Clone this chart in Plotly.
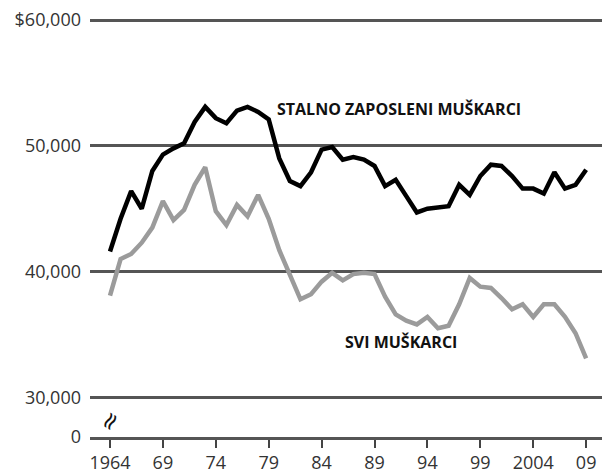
import plotly.graph_objects as go

years = list(range(1964, 2010))
stalno = [41600, 44200, 46400, 45000, 48000, 49300, 49800, 50200, 51900, 53100,
          52200, 51800, 52800, 53100, 52700, 52100, 49000, 47200, 46800, 47900,
          49700, 49900, 48900, 49100, 48900, 48400, 46800, 47300, 46000, 44700,
          45000, 45100, 45200, 46900, 46100, 47600, 48500, 48400, 47600, 46600,
          46600, 46200, 47900, 46600, 46900, 48100]
svi = [38100, 41000, 41400, 42300, 43500, 45600, 44100, 44900, 46900, 48300,
       44800, 43700, 45300, 44400, 46100, 44200, 41700, 39800, 37800, 38200,
       39200, 39900, 39300, 39800, 39900, 39800, 38000, 36600, 36100, 35800,
       36400, 35500, 35700, 37400, 39500, 38800, 38700, 37900, 37000, 37400,
       36400, 37400, 37400, 36400, 35100, 33100]

x_tickvals = [1964, 1969, 1974, 1979, 1984, 1989, 1994, 1999, 2004, 2009]
x_ticktext = ["1964", "69", "74", "79", "84", "89", "94", "99", "2004", "09"]

# the "0" baseline sits just below 30,000 (broken axis)
ZERO_POS = 26850
y_tickvals = [ZERO_POS, 30000, 40000, 50000, 60000]
y_ticktext = ["0", "30,000", "40,000", "50,000", "$60,000"]

label_font = dict(family="Open Sans, Arial, sans-serif", size=18, color="#333333")

fig = go.Figure()
fig.add_trace(go.Scatter(x=years, y=svi, mode="lines",
                         line=dict(color="#9b9b9b", width=4.5), hoverinfo="skip"))
fig.add_trace(go.Scatter(x=years, y=stalno, mode="lines",
                         line=dict(color="#000000", width=4.5), hoverinfo="skip"))

fig.add_annotation(x=1979.6, y=52900, xref="x", yref="y", text="<b>STALNO ZAPOSLENI MUŠKARCI</b>",
                   showarrow=False, xanchor="left", yanchor="middle",
                   font=dict(family="Open Sans, Arial, sans-serif", size=16, color="#111111"))
fig.add_annotation(x=1986.0, y=34400, xref="x", yref="y", text="<b>SVI MUŠKARCI</b>",
                   showarrow=False, xanchor="left", yanchor="middle",
                   font=dict(family="Open Sans, Arial, sans-serif", size=16, color="#111111"))
fig.add_annotation(x=1964, y=28100, xref="x", yref="y", text="≈",
                   showarrow=False, textangle=-60,
                   font=dict(family="DejaVu Sans, sans-serif", size=24, color="#111111"))

fig.update_layout(
    width=602, height=474,
    margin=dict(l=90, r=0, t=10, b=33),
    paper_bgcolor="white", plot_bgcolor="white",
    showlegend=False,
    xaxis=dict(range=[1962.11, 2010.5], tickvals=x_tickvals, ticktext=x_ticktext,
               showgrid=False, zeroline=False,
               showline=True, linecolor="#555555", linewidth=2.5,
               ticks="outside", ticklen=8, tickwidth=2, tickcolor="#444444",
               tickfont=label_font),
    yaxis=dict(range=[ZERO_POS, 60800], tickvals=y_tickvals, ticktext=y_ticktext,
               showgrid=True, gridcolor="#555555", gridwidth=2.5,
               zeroline=False, showline=False, ticks="",
               ticklabelstandoff=8, tickfont=label_font),
)

fig.write_html("out.html", config={"displayModeBar": False},
               post_script="document.body.style.margin='0';")
